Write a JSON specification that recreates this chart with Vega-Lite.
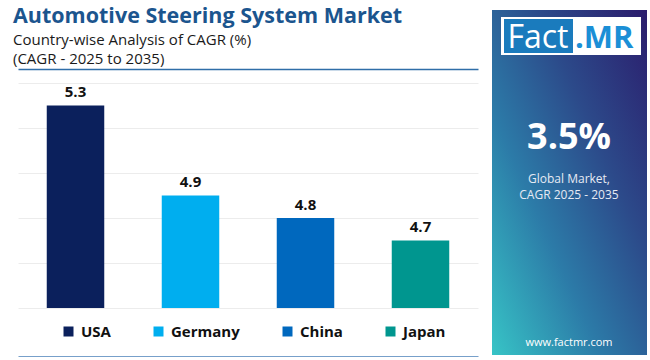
{
  "$schema": "https://vega.github.io/schema/vega-lite/v6.json",
  "background": "white",
  "padding": {"left": 13, "top": 5, "right": 4, "bottom": 0},
  "spacing": 13,
  "config": {
    "font": "Open Sans",
    "view": {"stroke": null},
    "axis": {"labelFont": "Open Sans", "titleFont": "Open Sans"}
  },
  "hconcat": [
    {
      "width": 460,
      "height": 298,
      "title": {
        "text": "Automotive Steering System Market",
        "subtitle": ["Country-wise Analysis of CAGR (%)", "(CAGR - 2025 to 2035)"],
        "anchor": "start",
        "dx": -5,
        "offset": -57,
        "font": "Open Sans",
        "fontSize": 21.5,
        "fontWeight": "bold",
        "color": "#1b558e",
        "subtitleFont": "Open Sans",
        "subtitleFontSize": 15,
        "subtitleColor": "#1a1a1a",
        "subtitleLineHeight": 19,
        "subtitlePadding": 6
      },
      "data": {
        "values": [
          {"country": "USA", "cagr": 5.3},
          {"country": "Germany", "cagr": 4.9},
          {"country": "China", "cagr": 4.8},
          {"country": "Japan", "cagr": 4.7}
        ]
      },
      "encoding": {
        "x": {
          "field": "country",
          "type": "nominal",
          "sort": ["USA", "Germany", "China", "Japan"],
          "scale": {"paddingInner": 0.5, "paddingOuter": 0.25}
        },
        "y": {
          "field": "cagr",
          "type": "quantitative",
          "scale": {"domain": [4.4, 5.7244], "zero": false, "nice": false}
        }
      },
      "layer": [
        {
          "mark": {"type": "bar", "clip": true},
          "encoding": {
            "x": {
              "field": "country",
              "type": "nominal",
              "sort": ["USA", "Germany", "China", "Japan"],
              "axis": {"orient": "top", "offset": -59, "labels": false, "ticks": false, "title": null, "domainColor": "#2f6ea8", "domainWidth": 1.5, "grid": false}
            },
            "y": {
              "field": "cagr",
              "type": "quantitative",
              "axis": {"values": [4.4, 4.6, 4.8, 5.0, 5.2, 5.4], "labels": false, "ticks": false, "domain": false, "title": null, "grid": true, "gridColor": "#ececec", "gridWidth": 1}
            },
            "color": {
              "field": "country",
              "type": "nominal",
              "sort": ["USA", "Germany", "China", "Japan"],
              "scale": {"domain": ["USA", "Germany", "China", "Japan"], "range": ["#0b205c", "#00aeef", "#0068be", "#00968f"]},
              "legend": {
                "title": null,
                "orient": "none",
                "legendX": 43,
                "legendY": 314,
                "direction": "horizontal",
                "gridAlign": "none",
                "symbolType": "square",
                "symbolSize": 100,
                "symbolStrokeWidth": 0,
                "symbolOpacity": 1,
                "labelFont": "Open Sans",
                "labelFontSize": 15,
                "labelFontWeight": "bold",
                "labelColor": "#111111",
                "labelOffset": 5,
                "columnPadding": 40
              }
            }
          }
        },
        {
          "mark": {"type": "text", "baseline": "alphabetic", "dy": -8, "fontSize": 15, "fontWeight": "bold", "color": "#111111", "font": "Open Sans"},
          "encoding": {
            "x": {
              "field": "country",
              "type": "nominal",
              "sort": ["USA", "Germany", "China", "Japan"],
              "axis": {"orient": "bottom", "offset": 49, "labels": false, "ticks": false, "title": null, "domainColor": "#4a80b8", "domainWidth": 2.5, "grid": false}
            },
            "text": {"field": "cagr", "type": "quantitative", "format": ".1f"}
          }
        }
      ]
    },
    {
      "width": 155,
      "height": 345,
      "layer": [
        {
          "data": {"values": [{"panel": "Global"}]},
          "mark": {
            "type": "rect",
            "x": 0, "x2": "width", "y": 0, "y2": "height",
            "color": {
              "gradient": "linear",
              "x1": 0, "y1": 1, "x2": 1, "y2": 0,
              "stops": [
                {"offset": 0, "color": "#37c4c6"},
                {"offset": 0.35, "color": "#2c7ba8"},
                {"offset": 0.65, "color": "#2c4a8a"},
                {"offset": 1, "color": "#2b1c6c"}
              ]
            }
          },
          "encoding": {}
        },
        {
          "data": {"values": [{"panel": "logo"}]},
          "mark": {"type": "rect", "x": 9, "x2": 149, "y": 7, "y2": 45, "color": "#ffffff"},
          "encoding": {}
        },
        {
          "data": {"values": [{"panel": "logo"}]},
          "mark": {"type": "rect", "x": 12, "x2": 81, "y": 9, "y2": 43, "color": "#1a7bbd"},
          "encoding": {}
        },
        {
          "data": {"values": [{"t": "Fact"}]},
          "mark": {"type": "text", "x": 46, "y": 38, "align": "center", "baseline": "alphabetic", "fontSize": 32, "font": "Open Sans", "color": "#ffffff"},
          "encoding": {"text": {"field": "t"}}
        },
        {
          "data": {"values": [{"t": ".MR"}]},
          "mark": {"type": "text", "x": 83, "y": 38, "align": "left", "baseline": "alphabetic", "fontSize": 31, "fontWeight": "bold", "font": "Open Sans", "color": "#1b8fd6"},
          "encoding": {"text": {"field": "t"}}
        },
        {
          "data": {"values": [{"t": "3.5%"}]},
          "mark": {"type": "text", "x": 77, "y": 128, "align": "center", "baseline": "middle", "fontSize": 36, "fontWeight": "bold", "font": "Open Sans", "color": "#ffffff"},
          "encoding": {"text": {"field": "t"}}
        },
        {
          "data": {"values": [{"panel": "divider"}]},
          "mark": {"type": "rule", "x": 9, "x2": 149, "y": 154, "color": "#c9cde8", "strokeWidth": 1.5},
          "encoding": {}
        },
        {
          "data": {"values": [{"t": "Global Market,"}]},
          "mark": {"type": "text", "x": 77, "y": 169, "align": "center", "baseline": "middle", "fontSize": 12, "font": "Open Sans", "color": "#e6eaf4"},
          "encoding": {"text": {"field": "t"}}
        },
        {
          "data": {"values": [{"t": "CAGR 2025 - 2035"}]},
          "mark": {"type": "text", "x": 77, "y": 185, "align": "center", "baseline": "middle", "fontSize": 12, "font": "Open Sans", "color": "#e6eaf4"},
          "encoding": {"text": {"field": "t"}}
        },
        {
          "data": {"values": [{"t": "www.factmr.com"}]},
          "mark": {"type": "text", "x": 77, "y": 333, "align": "center", "baseline": "middle", "fontSize": 11, "font": "Open Sans", "color": "#ffffff"},
          "encoding": {"text": {"field": "t"}}
        }
      ]
    }
  ]
}
